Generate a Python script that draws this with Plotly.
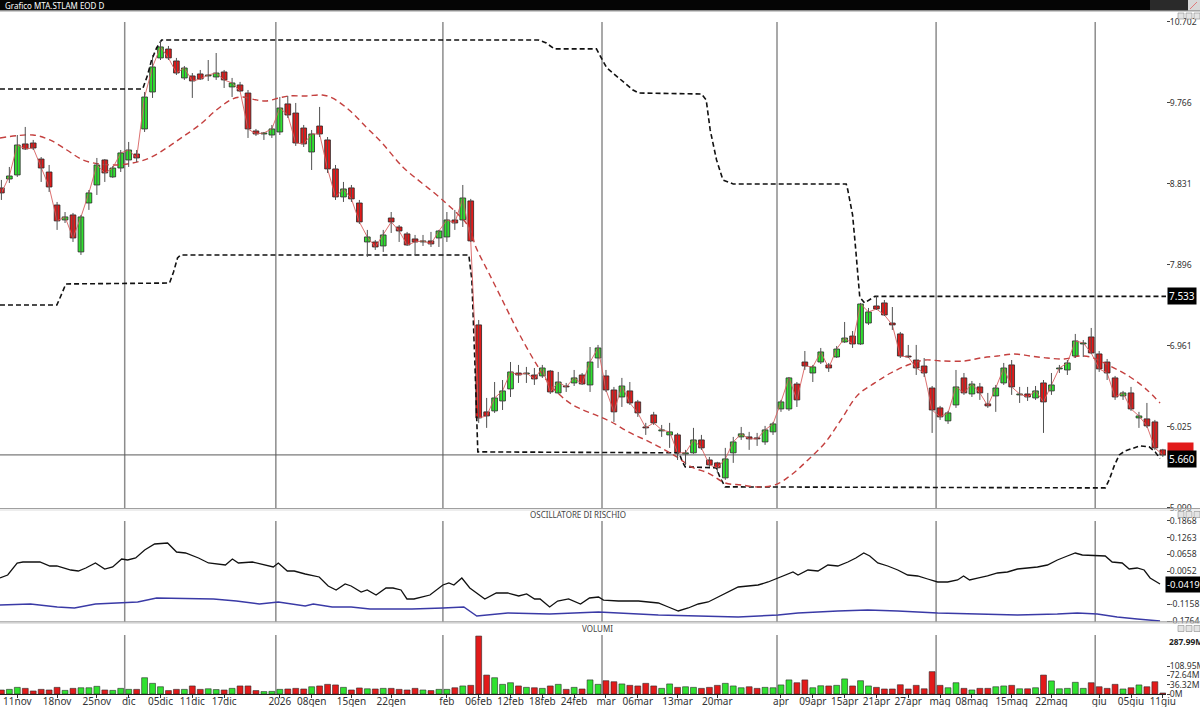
import pandas as pd
import plotly.graph_objects as go

# ---------------- DATA ----------------
market_holidays = ["2025-12-24", "2025-12-25", "2025-12-26", "2025-12-31",
                   "2026-01-01", "2026-04-03", "2026-04-06", "2026-05-01"]
dates = [d for d in pd.bdate_range("2025-11-07", "2026-06-11").strftime("%Y-%m-%d")
         if d not in market_holidays]

opens = [8.785, 8.888, 8.935, 9.293, 9.304, 9.119, 8.969, 8.588, 8.415, 8.473,
         8.046, 8.611, 8.819, 9.108, 8.912, 9.015, 9.108, 9.177, 9.466, 9.893,
         10.286, 10.389, 10.251, 10.055, 10.078, 10.101, 10.078, 10.066, 10.124, 9.951,
         9.974, 9.881, 9.443, 9.408, 9.396, 9.431, 9.755, 9.650, 9.477, 9.200,
         9.500, 9.339, 9.004, 8.681, 8.785, 8.611, 8.161, 8.161, 8.115, 8.438,
         8.334, 8.254, 8.196, 8.161, 8.173, 8.207, 8.219, 8.415, 8.415, 8.635,
         7.203, 6.199, 6.210, 6.325, 6.464, 6.648, 6.637, 6.625, 6.614, 6.671,
         6.418, 6.498, 6.533, 6.625, 6.510, 6.821, 6.614, 6.452, 6.371, 6.441,
         6.314, 6.025, 6.164, 5.979, 5.933, 5.933, 5.714, 5.726, 5.875, 5.644,
         5.610, 5.437, 5.726, 5.910, 5.910, 5.899, 5.852, 5.968, 6.233, 6.233,
         6.521, 6.775, 6.648, 6.775, 6.741, 6.833, 7.006, 7.075, 6.983, 7.225,
         7.422, 7.457, 7.225, 7.099, 6.844, 6.798, 6.729, 6.475, 6.245, 6.095,
         6.279, 6.591, 6.406, 6.487, 6.291, 6.383, 6.533, 6.741, 6.395, 6.406,
         6.360, 6.533, 6.441, 6.695, 6.683, 6.844, 6.983, 7.064, 6.868, 6.775,
         6.591, 6.383, 6.418, 6.129, 6.118, 6.083, 5.760]
highs = [8.877, 9.027, 9.396, 9.489, 9.339, 9.142, 9.050, 8.623, 8.507, 8.496,
         8.473, 8.761, 9.131, 9.119, 9.038, 9.223, 9.316, 9.223, 9.893, 10.320,
         10.490, 10.424, 10.286, 10.193, 10.112, 10.147, 10.262, 10.343, 10.147, 10.055,
         10.009, 9.916, 9.466, 9.431, 9.512, 9.835, 9.847, 9.766, 9.512, 9.454,
         9.720, 9.373, 9.050, 8.854, 8.819, 8.646, 8.300, 8.184, 8.300, 8.507,
         8.357, 8.277, 8.242, 8.242, 8.277, 8.300, 8.507, 8.531, 8.819, 8.658,
         7.260, 6.360, 6.544, 6.567, 6.775, 6.741, 6.718, 6.706, 6.741, 6.683,
         6.660, 6.533, 6.683, 6.648, 6.948, 6.972, 6.683, 6.487, 6.591, 6.544,
         6.337, 6.072, 6.199, 6.048, 6.072, 5.956, 5.760, 6.014, 5.933, 5.679,
         5.622, 5.783, 5.910, 6.025, 5.968, 5.956, 6.037, 6.083, 6.337, 6.602,
         6.544, 6.902, 6.741, 6.937, 6.764, 6.960, 7.237, 7.133, 7.457, 7.399,
         7.533, 7.491, 7.410, 7.122, 6.972, 6.972, 6.821, 6.498, 6.268, 6.210,
         6.683, 6.648, 6.556, 6.533, 6.418, 6.510, 6.764, 6.798, 6.487, 6.487,
         6.498, 6.567, 6.648, 6.741, 6.798, 7.099, 7.029, 7.168, 6.902, 6.810,
         6.614, 6.441, 6.487, 6.199, 6.302, 6.106, 5.772]
lows = [8.646, 8.842, 8.912, 9.223, 9.223, 8.854, 8.738, 8.300, 8.380, 8.161,
        8.011, 8.531, 8.704, 8.854, 8.900, 8.969, 9.027, 9.085, 9.431, 9.824,
        10.262, 10.262, 10.089, 10.032, 9.824, 10.032, 10.020, 10.032, 9.939, 9.835,
        9.893, 9.362, 9.385, 9.339, 9.362, 9.396, 9.593, 9.270, 9.258, 8.992,
        9.373, 8.958, 8.646, 8.623, 8.623, 8.369, 7.988, 8.069, 8.046, 8.265,
        8.161, 8.115, 8.011, 8.115, 8.103, 8.103, 8.161, 8.300, 8.334, 8.161,
        6.072, 6.014, 6.187, 6.221, 6.371, 6.533, 6.533, 6.510, 6.591, 6.406,
        6.406, 6.429, 6.498, 6.510, 6.429, 6.706, 6.429, 6.083, 6.256, 6.279,
        6.141, 5.933, 6.048, 5.910, 5.783, 5.644, 5.587, 5.714, 5.760, 5.564,
        5.495, 5.414, 5.610, 5.875, 5.760, 5.806, 5.818, 5.933, 6.199, 6.210,
        6.256, 6.683, 6.544, 6.752, 6.660, 6.821, 6.995, 6.937, 6.972, 7.203,
        7.376, 7.306, 7.145, 6.821, 6.821, 6.625, 6.602, 5.956, 6.106, 6.060,
        6.245, 6.395, 6.371, 6.337, 6.245, 6.199, 6.510, 6.395, 6.302, 6.325,
        6.337, 5.956, 6.395, 6.648, 6.625, 6.821, 6.833, 6.868, 6.660, 6.567,
        6.337, 6.337, 6.210, 6.014, 6.014, 5.760, 5.679]
closes = [8.727, 8.923, 9.281, 9.235, 9.246, 9.015, 8.796, 8.404, 8.450, 8.207,
          8.450, 8.727, 9.050, 8.958, 9.015, 9.189, 9.223, 9.131, 9.835, 10.182,
          10.413, 10.286, 10.112, 10.170, 10.020, 10.043, 10.089, 10.112, 10.032, 9.997,
          9.904, 9.466, 9.408, 9.420, 9.466, 9.708, 9.627, 9.304, 9.293, 9.408,
          9.408, 9.004, 8.681, 8.773, 8.658, 8.392, 8.219, 8.103, 8.242, 8.392,
          8.288, 8.126, 8.161, 8.173, 8.138, 8.288, 8.415, 8.380, 8.669, 8.173,
          6.129, 6.152, 6.360, 6.441, 6.660, 6.625, 6.648, 6.579, 6.706, 6.429,
          6.544, 6.487, 6.591, 6.521, 6.775, 6.937, 6.452, 6.199, 6.498, 6.302,
          6.187, 6.014, 6.072, 5.991, 5.968, 5.726, 5.726, 5.875, 5.783, 5.587,
          5.553, 5.656, 5.852, 5.945, 5.887, 5.887, 5.991, 6.060, 6.314, 6.591,
          6.337, 6.729, 6.718, 6.891, 6.706, 6.925, 7.052, 6.983, 7.445, 7.353,
          7.387, 7.318, 7.203, 6.844, 6.833, 6.706, 6.648, 6.221, 6.141, 6.187,
          6.487, 6.418, 6.521, 6.418, 6.268, 6.475, 6.706, 6.487, 6.406, 6.371,
          6.441, 6.314, 6.510, 6.706, 6.764, 7.018, 6.995, 6.879, 6.695, 6.648,
          6.371, 6.418, 6.233, 6.152, 6.037, 5.783, 5.702]
# volumes in millions, read against the 36.32M-spaced volume axis
volumes_m = [15.6, 18.1, 25.9, 22.0, 11.8, 18.1, 15.7, 25.9, 14.1, 22.0,
             24.4, 24.4, 29.9, 15.7, 14.1, 22.0, 18.1, 18.1, 63.6, 41.6,
             28.3, 13.4, 18.1, 18.1, 31.4, 18.1, 20.4, 17.3, 15.7, 22.0,
             31.4, 31.4, 13.4, 9.4, 10.2, 18.1, 19.6, 22.0, 19.6, 28.3,
             31.4, 37.7, 35.4, 25.9, 15.7, 23.6, 20.4, 19.6, 22.0, 22.0,
             18.1, 15.7, 22.0, 15.7, 13.4, 18.1, 18.1, 24.4, 31.4, 33.8,
             226.3, 73.9, 63.6, 37.7, 44.0, 31.4, 25.9, 24.4, 22.0, 31.4,
             37.7, 18.1, 25.9, 19.6, 55.0, 37.7, 51.9, 47.9, 39.3, 33.8,
             31.4, 41.6, 31.4, 22.0, 39.3, 25.9, 28.3, 25.9, 22.0, 25.9,
             33.8, 41.6, 31.4, 24.4, 28.3, 22.0, 25.9, 24.4, 35.4, 55.0,
             44.0, 55.0, 24.4, 32.2, 31.4, 33.8, 58.9, 31.4, 51.9, 31.4,
             25.9, 19.6, 19.6, 36.1, 19.6, 33.8, 20.4, 87.2, 33.8, 24.4,
             44.0, 22.0, 15.7, 22.0, 22.0, 28.3, 31.4, 33.8, 20.4, 20.4,
             24.4, 73.9, 51.1, 20.4, 22.0, 45.6, 22.0, 44.0, 28.3, 22.0,
             37.7, 19.6, 24.4, 35.4, 28.3, 47.9, 3.9]

# channel (highest / lowest) lines, positions in trading-day units
upper_band_pos = [-0.18, 17.76, 18.38, 18.88, 19.51, 20.14, 67.5, 68.5, 69.5, 74.8,
                  76.1, 77.6, 79.4, 80.1, 88.0, 88.6, 89.1, 89.9, 90.7, 92.0,
                  106.2, 106.4, 107.0, 107.4, 107.7, 107.9, 108.5, 109.8, 146.4]
upper_band = [9.928, 9.928, 10.089, 10.262, 10.401, 10.493, 10.493, 10.458, 10.390, 10.390,
              10.170, 10.055, 9.916, 9.881, 9.870, 9.800, 9.454, 9.108, 8.877, 8.831,
              8.831, 8.761, 8.473, 8.069, 7.722, 7.526, 7.457, 7.533, 7.533]
lower_band_pos = [-0.18, 6.97, 7.47, 8.10, 21.14, 21.64, 22.14, 22.52, 58.76, 59.14,
                  59.51, 59.89, 85.2, 85.6, 85.97, 89.86, 90.36, 90.99, 138.76, 139.26,
                  139.89, 140.52, 141.27, 143.15, 144.28, 145.03, 145.65]
lower_band = [7.433, 7.433, 7.537, 7.676, 7.687, 7.814, 7.976, 8.011, 8.011, 7.722,
              6.798, 5.737, 5.726, 5.622, 5.564, 5.553, 5.437, 5.333, 5.321, 5.414,
              5.575, 5.702, 5.749, 5.806, 5.795, 5.737, 5.660]
ma_pos = [-0.18, 3.96, 6.09, 8.23, 10.23, 12.36, 14.50, 16.50, 18.63, 20.76,
          22.77, 24.90, 27.03, 29.04, 30.29, 32.05, 33.30, 34.93, 36.19, 38.32,
          40.33, 41.58, 43.71, 45.84, 47.85, 49.98, 50.86, 55.88, 58.76, 59.64,
          61.27, 63.40, 65.03, 67.16, 68.79, 70.92, 72.55, 74.68, 76.69, 78.82,
          80.95, 82.96, 85.09, 86.72, 88.85, 90.99, 92.99, 95.12, 97.25, 99.26,
          101.39, 103.52, 105.53, 107.66, 109.79, 111.80, 113.93, 116.07, 118.07, 121.08,
          123.09, 125.22, 127.35, 129.35, 131.48, 133.62, 135.62, 136.88, 139.38, 141.89,
          144.02, 145.65]
ma_vals = [9.362, 9.396, 9.339, 9.223, 9.108, 9.061, 9.050, 9.073, 9.131, 9.246,
           9.373, 9.512, 9.685, 9.812, 9.835, 9.801, 9.789, 9.824, 9.847, 9.847,
           9.858, 9.824, 9.685, 9.489, 9.304, 9.073, 8.992, 8.611, 8.334, 8.103,
           7.803, 7.410, 7.110, 6.764, 6.533, 6.337, 6.244, 6.164, 6.082, 5.967,
           5.875, 5.782, 5.667, 5.563, 5.493, 5.378, 5.355, 5.332, 5.355, 5.470,
           5.644, 5.840, 6.105, 6.394, 6.533, 6.648, 6.740, 6.798, 6.787, 6.787,
           6.821, 6.844, 6.867, 6.844, 6.821, 6.810, 6.844, 6.833, 6.729, 6.602,
           6.452, 6.302]

# "Oscillatore di rischio"
osc_pos = [-0.18, 0.79, 1.98, 2.71, 4.84, 6.09, 6.97, 8.73, 9.67, 10.61,
           11.82, 12.99, 13.99, 15.12, 15.87, 16.88, 18.01, 19.26, 20.89, 22.02,
           23.15, 24.78, 26.03, 27.66, 28.16, 29.04, 29.79, 31.55, 32.93, 34.18,
           34.81, 35.94, 36.81, 38.19, 39.95, 41.08, 42.08, 43.21, 43.96, 45.22,
           45.98, 47.10, 48.35, 49.23, 50.23, 50.98, 51.86, 52.86, 53.87, 55.50,
           56.25, 56.88, 57.88, 58.88, 60.77, 62.21, 63.65, 65.03, 66.03, 67.03,
           67.72, 68.92, 69.92, 71.30, 72.80, 73.93, 75.06, 75.69, 77.57, 80.08,
           82.58, 83.84, 85.09, 86.34, 87.60, 88.85, 90.11, 91.36, 92.62, 93.87,
           95.12, 96.38, 97.63, 98.88, 99.51, 100.14, 101.39, 102.65, 103.90, 105.15,
           106.41, 107.41, 108.41, 109.16, 110.17, 111.42, 112.68, 113.93, 115.18, 116.44,
           117.69, 118.95, 120.20, 120.95, 121.71, 122.71, 123.96, 125.22, 126.47, 127.73,
           128.98, 130.24, 131.49, 132.74, 134.00, 135.00, 135.88, 137.76, 138.76, 139.63,
           140.89, 141.77, 142.77, 143.65, 144.40, 145.65]
osc_vals = [-0.0202, -0.0093, 0.0342, 0.0378, 0.0378, 0.0233, 0.0233, 0.0088, 0.0052, 0.0161,
            0.0342, 0.0124, 0.0197, 0.0487, 0.0451, 0.0523, 0.0813, 0.1030, 0.1066, 0.0740,
            0.0704, 0.0523, 0.0342, 0.0269, 0.0269, 0.0487, 0.0342, 0.0378, 0.0269, 0.0197,
            0.0342, 0.0052, 0.0052, -0.0057, -0.0165, -0.0491, -0.0636, -0.0419, -0.0491, -0.0709,
            -0.0636, -0.0818, -0.0564, -0.0564, -0.0636, -0.0962, -0.0962, -0.0890, -0.0818, -0.0455,
            -0.0383, -0.0455, -0.0202, -0.0564, -0.0962, -0.0745, -0.0745, -0.0854, -0.0781, -0.0962,
            -0.0962, -0.1252, -0.1035, -0.0962, -0.1144, -0.0926, -0.0890, -0.1000, -0.1035, -0.1035,
            -0.1107, -0.1252, -0.1397, -0.1288, -0.1144, -0.1071, -0.0890, -0.0709, -0.0528, -0.0491,
            -0.0455, -0.0346, -0.0202, -0.0057, 0.0016, -0.0093, 0.0088, 0.0052, 0.0269, 0.0233,
            0.0378, 0.0523, 0.0704, 0.0595, 0.0342, 0.0233, 0.0088, -0.0093, -0.0129, -0.0238,
            -0.0346, -0.0346, -0.0274, -0.0129, -0.0274, -0.0202, -0.0129, -0.0020, 0.0016, 0.0124,
            0.0161, 0.0197, 0.0269, 0.0451, 0.0595, 0.0704, 0.0632, 0.0595, 0.0595, 0.0378,
            0.0342, 0.0124, 0.0161, 0.0088, -0.0202, -0.0419]
risk_pos = [-0.18, 3.66, 7.02, 9.18, 11.82, 15.62, 17.13, 19.51, 26.66, 29.54,
            32.43, 34.81, 38.19, 39.20, 41.58, 43.96, 46.34, 49.73, 51.61, 55.50,
            58.13, 59.76, 63.65, 68.92, 73.18, 75.06, 80.08, 82.58, 87.60, 92.62,
            97.63, 100.14, 105.15, 108.91, 112.68, 117.69, 122.71, 127.73, 132.74, 135.25,
            137.76, 140.26, 142.77, 145.65]
risk_vals = [-0.1180, -0.1144, -0.1252, -0.1288, -0.1144, -0.1107, -0.1071, -0.0926, -0.0962, -0.1035,
             -0.1144, -0.1071, -0.1216, -0.1144, -0.1252, -0.1252, -0.1325, -0.1325, -0.1325, -0.1288,
             -0.1252, -0.1578, -0.1470, -0.1506, -0.1470, -0.1433, -0.1506, -0.1542, -0.1578, -0.1615,
             -0.1542, -0.1470, -0.1397, -0.1361, -0.1397, -0.1470, -0.1506, -0.1542, -0.1506, -0.1470,
             -0.1506, -0.1615, -0.1687, -0.1760]

tick_dates = ["2025-11-11", "2025-11-18", "2025-11-25", "2025-12-01", "2025-12-05", "2025-12-11",
              "2025-12-17", "2026-01-02", "2026-01-08", "2026-01-15", "2026-01-22", "2026-02-02",
              "2026-02-06", "2026-02-12", "2026-02-18", "2026-02-24", "2026-03-02", "2026-03-06",
              "2026-03-13", "2026-03-20", "2026-04-01", "2026-04-09", "2026-04-15", "2026-04-21",
              "2026-04-27", "2026-05-04", "2026-05-08", "2026-05-15", "2026-05-22", "2026-06-01",
              "2026-06-05", "2026-06-11"]
tick_text = ["11nov", "18nov", "25nov", "dic", "05dic", "11dic", "17dic", "2026", "08gen", "15gen",
             "22gen", "feb", "06feb", "12feb", "18feb", "24feb", "mar", "06mar", "13mar", "20mar",
             "apr", "09apr", "15apr", "21apr", "27apr", "mag", "08mag", "15mag", "22mag", "giu",
             "05giu", "11giu"]
month_start_dates = ["2025-12-01", "2026-01-02", "2026-02-02", "2026-03-02",
                     "2026-04-01", "2026-05-04", "2026-06-01"]

price_ticks = [5.090, 6.025, 6.961, 7.896, 8.831, 9.766, 10.702]
osc_ticks = [-0.1764, -0.1158, -0.0553, 0.0052, 0.0658, 0.1263, 0.1868]
vol_ticks_m = [0, 36.32, 72.64, 108.95]
vol_max_label = "287.99M"
upper_label = 7.533
lower_label = 5.660
osc_last = -0.0419

n = len(dates)
for arr in (opens, highs, lows, closes, volumes_m):
    assert len(arr) == n, (len(arr), n)

# ---------------- STYLE / GEOMETRY ----------------
GREEN = "#2fe22f"
RED = "#e21a1a"
FONT = "Noto Sans, Open Sans, DejaVu Sans, sans-serif"
AX_FONT = dict(family=FONT, size=8.6, color="#333333")
PLOT_W = 1166.0
PAPER_H = 694.0


def px_x(p):
    return p / PLOT_W


def px_y(p):
    return (PAPER_H - p) / PAPER_H


idx = list(range(n))
pos_of = {d: i for i, d in enumerate(dates)}
rising = [c >= o for o, c in zip(opens, closes)]

fig = go.Figure()

# channels and moving average
fig.add_trace(go.Scatter(x=upper_band_pos, y=upper_band, mode="lines",
                         line=dict(color="#111111", width=1.6, dash="5px,3px"),
                         xaxis="x", yaxis="y", hoverinfo="skip"))
fig.add_trace(go.Scatter(x=lower_band_pos, y=lower_band, mode="lines",
                         line=dict(color="#111111", width=1.6, dash="5px,3px"),
                         xaxis="x", yaxis="y", hoverinfo="skip"))
fig.add_trace(go.Scatter(x=ma_pos, y=ma_vals, mode="lines", line_shape="spline",
                         line=dict(color="#c4403f", width=1.4, dash="6px,4px"),
                         xaxis="x", yaxis="y", hoverinfo="skip"))
# close line
fig.add_trace(go.Scatter(x=idx, y=closes, mode="lines",
                         line=dict(color="#d86060", width=0.9),
                         xaxis="x", yaxis="y", hoverinfo="skip"))
# wicks
wx, wy = [], []
for i in idx:
    wx += [i, i, None]
    wy += [lows[i], highs[i], None]
fig.add_trace(go.Scatter(x=wx, y=wy, mode="lines", line=dict(color="#505050", width=1),
                         xaxis="x", yaxis="y", hoverinfo="skip"))
# bodies
for flag, col in ((True, GREEN), (False, RED)):
    sel = [i for i in idx if rising[i] == flag]
    fig.add_trace(go.Bar(
        x=sel,
        base=[min(opens[i], closes[i]) for i in sel],
        y=[max(abs(closes[i] - opens[i]), 0.01) for i in sel],
        width=0.72, marker=dict(color=col, line=dict(color="#262626", width=0.8)),
        xaxis="x", yaxis="y", hoverinfo="skip"))

# oscillator
fig.add_trace(go.Scatter(x=osc_pos, y=osc_vals, mode="lines",
                         line=dict(color="#111111", width=1.3),
                         xaxis="x2", yaxis="y2", hoverinfo="skip"))
fig.add_trace(go.Scatter(x=risk_pos, y=risk_vals, mode="lines",
                         line=dict(color="#3a3aa6", width=1.4),
                         xaxis="x2", yaxis="y2", hoverinfo="skip"))

# volume
fig.add_trace(go.Bar(x=idx, y=[v * 1e6 for v in volumes_m],
                     marker=dict(color=[GREEN if r else RED for r in rising],
                                 line=dict(color="#2a2a2a", width=0.6)),
                     width=0.74, xaxis="x3", yaxis="y3", hoverinfo="skip"))

# ---------------- SHAPES ----------------
shapes = []
XR = 1200.0 / PLOT_W
for d in month_start_dates:
    xm = pos_of[d] - 0.5
    for (a, b) in ((22, 508), (521, 622), (635, 694)):
        shapes.append(dict(type="line", xref="x", yref="paper", x0=xm, x1=xm,
                           y0=px_y(b), y1=px_y(a), layer="below",
                           line=dict(color="#8c8c8c", width=1.5)))
# last price line
shapes.append(dict(type="line", xref="paper", yref="y", x0=0, x1=1, y0=closes[-1], y1=closes[-1],
                   layer="below", line=dict(color="#5a5a5a", width=1)))
# panel separators
for p, c, w in ((508.5, "#a0a0a0", 1.2), (510.0, "#dcdcdc", 1), (621.8, "#a0a0a0", 1.2), (623.3, "#dcdcdc", 1)):
    shapes.append(dict(type="line", xref="paper", yref="paper", x0=0, x1=XR,
                       y0=px_y(p), y1=px_y(p), line=dict(color=c, width=w)))
# title bar
shapes.append(dict(type="rect", xref="paper", yref="paper", x0=0, x1=XR, y0=px_y(10.5), y1=px_y(0),
                   fillcolor="#050505", line=dict(width=0)))
shapes.append(dict(type="rect", xref="paper", yref="paper", x0=px_x(1150), x1=px_x(1188),
                   y0=px_y(10.5), y1=px_y(0), fillcolor="#2a2a2a", line=dict(width=0)))
shapes.append(dict(type="rect", xref="paper", yref="paper", x0=px_x(1188), x1=XR,
                   y0=px_y(10.5), y1=px_y(0), fillcolor="#d8d8d8", line=dict(width=0)))
shapes.append(dict(type="line", xref="paper", yref="paper", x0=px_x(1190), x1=px_x(1197),
                   y0=px_y(9), y1=px_y(2), line=dict(color="#e07a7a", width=1)))
shapes.append(dict(type="line", xref="paper", yref="paper", x0=0, x1=XR, y0=px_y(11), y1=px_y(11),
                   line=dict(color="#9a9a9a", width=1)))
# small window buttons
for top in (13, 511.5, 625.5):
    for bx in (1178, 1186, 1194):
        shapes.append(dict(type="rect", xref="paper", yref="paper", x0=px_x(bx), x1=px_x(bx + 6),
                           y0=px_y(top + 6), y1=px_y(top), fillcolor="#e4e4e4",
                           line=dict(color="#8a8a8a", width=0.6)))

# ---------------- ANNOTATIONS ----------------
annotations = [
    dict(x=px_x(3), y=px_y(5.2), xref="paper", yref="paper", text="Grafico MTA.STLAM EOD D",
         showarrow=False, xanchor="left", yanchor="middle",
         font=dict(family=FONT, size=8, color="#ffffff")),
    dict(x=px_x(578), y=px_y(514.5), xref="paper", yref="paper", text="OSCILLATORE DI RISCHIO",
         showarrow=False, xanchor="center", yanchor="middle",
         font=dict(family=FONT, size=8, color="#444444")),
    dict(x=px_x(598), y=px_y(628.5), xref="paper", yref="paper", text="VOLUMI",
         showarrow=False, xanchor="center", yanchor="middle",
         font=dict(family=FONT, size=8, color="#444444")),
    dict(x=px_x(1167), y=px_y(641), xref="paper", yref="paper", text="<b>" + vol_max_label + "</b>",
         showarrow=False, xanchor="left", yanchor="middle",
         font=dict(family=FONT, size=8.4, color="#222222")),
    dict(x=px_x(1167), y=upper_label, xref="paper", yref="y", text="7.533", showarrow=False,
         xanchor="left", yanchor="middle", bgcolor="#000000", borderpad=1,
         font=dict(family=FONT, size=10, color="#ffffff")),
    dict(x=px_x(1167), y=closes[-1] + 0.04, xref="paper", yref="y",
         text="&nbsp;" * 9, showarrow=False,
         xanchor="left", yanchor="middle", bgcolor=RED, borderpad=1,
         font=dict(family=FONT, size=10, color=RED)),
    dict(x=px_x(1167), y=lower_label, xref="paper", yref="y", text="5.660", showarrow=False,
         xanchor="left", yanchor="middle", bgcolor="#000000", borderpad=1,
         font=dict(family=FONT, size=10, color="#ffffff")),
    dict(x=px_x(1165), y=osc_last, xref="paper", yref="y2", text="-0.0419", showarrow=False,
         xanchor="left", yanchor="middle", bgcolor="#000000", borderpad=1,
         font=dict(family=FONT, size=9.5, color="#ffffff")),
]

# ---------------- LAYOUT ----------------
xcommon = dict(range=[-0.176, 146.4], showgrid=False, zeroline=False, showline=False, automargin=False)
ycommon = dict(side="right", showgrid=False, zeroline=False, showline=False, ticks="outside",
               ticklen=3, tickcolor="#444444", automargin=False, ticklabelstandoff=-2,
               tickfont=AX_FONT)

fig.update_layout(
    width=1200, height=707, autosize=False,
    margin=dict(l=0, r=34, t=0, b=13, pad=0),
    paper_bgcolor="#ffffff", plot_bgcolor="#ffffff",
    showlegend=False, barmode="overlay",
    xaxis=dict(domain=[0, 1], anchor="y", showticklabels=False, ticks="", **xcommon),
    xaxis2=dict(domain=[0, 1], anchor="y2", matches="x", showticklabels=False, ticks="", **xcommon),
    xaxis3=dict(domain=[0, 1], anchor="y3", matches="x", automargin=False,
                tickmode="array", tickvals=[pos_of[d] for d in tick_dates], ticktext=tick_text,
                ticks="outside", ticklen=3, tickcolor="#333333", ticklabelstandoff=-5,
                tickfont=dict(family=FONT, size=10, color="#333333"),
                range=[-0.176, 146.4], showgrid=False, zeroline=False,
                showline=True, linecolor="#222222", linewidth=1),
    yaxis=dict(domain=[px_y(508), px_y(20)], anchor="x", range=[5.089, 10.724],
               tickmode="array", tickvals=price_ticks, ticktext=[f"{v:.3f}" for v in price_ticks],
               **ycommon),
    yaxis2=dict(domain=[px_y(622), px_y(510)], anchor="x2", range=[-0.1796, 0.2262],
                tickmode="array", tickvals=osc_ticks, ticktext=[f"{v:.4f}" for v in osc_ticks],
                **ycommon),
    yaxis3=dict(domain=[0, px_y(623)], anchor="x3", range=[0, 277.3e6],
                tickmode="array", tickvals=[v * 1e6 for v in vol_ticks_m],
                ticktext=["0M", "36.32M", "72.64M", "108.95M"],
                **ycommon),
    shapes=shapes,
    annotations=annotations,
    font=dict(family=FONT),
)

fig.write_html("out.html", config={"displayModeBar": False})
